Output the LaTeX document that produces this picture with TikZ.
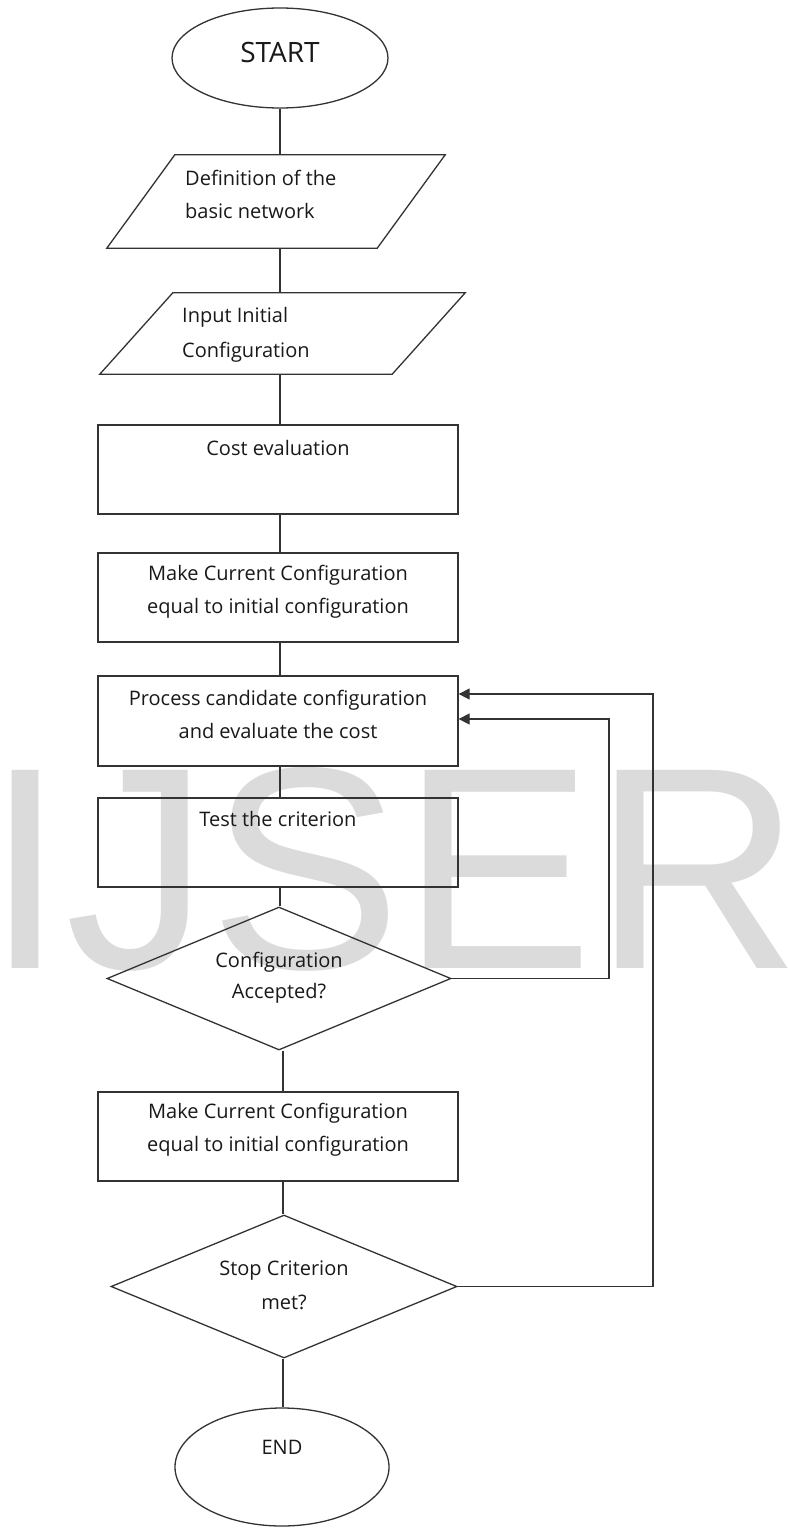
\documentclass[tikz,border=0pt]{standalone}
\usepackage{fontspec}
\setmainfont{Open Sans}
\newfontfamily\wmfont{Liberation Sans}
\usetikzlibrary{shapes.geometric,arrows.meta}
\begin{document}
\begin{tikzpicture}[x=1pt,y=-1pt,
  line/.style={draw=black!80, line width=1.3pt},
  frame/.style={rectangle, draw=none, inner sep=0pt},
  procbox/.style={rectangle, line, minimum width=360pt, minimum height=89pt, inner sep=0pt},
  term/.style={ellipse, line, inner sep=0pt},
  decide/.style={diamond, line, inner sep=0pt},
  txt/.style={inner sep=0pt, text=black!90, font=\fontsize{20}{33}\selectfont, align=center},
  ltxt/.style={inner sep=0pt, text=black!90, font=\fontsize{20}{35}\selectfont, align=left, anchor=west},
  fb/.style={line, -{Triangle[length=11pt,width=11pt]}}
]
\useasboundingbox (0,0) rectangle (787,1528);
\fill[white] (0,0) rectangle (787,1528);
\clip (0,0) rectangle (787,1528);

% watermark
\node[anchor=base west, inner sep=0pt, text=black!14, font=\wmfont\fontsize{288}{288}\selectfont] (wm) at (-15,968) {IJSER};

\coordinate (col) at (280,0);
\coordinate (colb) at (283,0);

% shapes
\node[term, minimum width=216pt, minimum height=100pt] (start) at (280,58) {};
\node[txt, font=\fontsize{28}{30}\selectfont] (starttxt) at (280,52) {START};

\node[frame, minimum width=338pt, minimum height=93pt] (def) at (276,201.5) {};
\draw[line] ([xshift=68pt]def.north west) -- (def.north east) -- ([xshift=-68pt]def.south east) -- (def.south west) -- cycle;
\node[ltxt, font=\fontsize{20}{33}\selectfont] (deftxt) at (185,194.5) {Definition of the\\basic network};

\node[frame, minimum width=365pt, minimum height=81pt] (inp) at (282.5,333.5) {};
\draw[line] ([xshift=73pt]inp.north west) -- (inp.north east) -- ([xshift=-73pt]inp.south east) -- (inp.south west) -- cycle;
\node[ltxt] (inptxt) at (182,334.5) {Input Initial\\Configuration};

\node[procbox] (cost) at (278,469.5) {};
\node[txt] (costtxt) at (278,448) {Cost evaluation};

\node[procbox] (make) at (278,597.5) {};
\node[txt] (maketxt) at (278,591.5) {Make Current Configuration\\equal to initial configuration};

\node[procbox, minimum height=90pt] (proc) at (278,721) {};
\node[txt] (proctxt) at (278,714) {Process candidate configuration\\and evaluate the cost};

\node[procbox] (test) at (278,842.5) {};
\node[txt] (testtxt) at (278,819) {Test the criterion};

\node[decide, minimum width=344pt, minimum height=143pt] (acc) at (279,978.5) {};
\node[txt, font=\fontsize{20}{31}\selectfont] (acctxt) at (279,977.5) {Configuration\\Accepted?};

\node[procbox] (make2) at (278,1136.5) {};
\node[txt] (make2txt) at (278,1130) {Make Current Configuration\\equal to initial configuration};

\node[decide, minimum width=346pt, minimum height=143pt] (stop) at (284,1286.5) {};
\node[txt, font=\fontsize{20}{34}\selectfont] (stoptxt) at (284,1285) {Stop Criterion\\met?};

\node[term, minimum width=214pt, minimum height=118pt] (end) at (282,1467) {};
\node[txt] (endtxt) at (282,1447) {END};

% connectors
\draw[line] (col |- start.south) -- (col |- def.north);
\draw[line] (col |- def.south) -- (col |- inp.north);
\draw[line] (col |- inp.south) -- (col |- cost.north);
\draw[line] (col |- cost.south) -- (col |- make.north);
\draw[line] (col |- make.south) -- (col |- proc.north);
\draw[line] (col |- proc.south) -- (col |- test.north);
\draw[line] (col |- test.south) -- (col |- acc.north);
\draw[line] (colb |- acc.south) -- (colb |- make2.north);
\draw[line] (colb |- make2.south) -- (colb |- stop.north);
\draw[line] (colb |- stop.south) -- (colb |- end.north);

% feedback loops
\coordinate (fbA) at (609,719);
\coordinate (fbB) at (653,694);
\draw[fb] (acc.east) -| (fbA) -- (proc.east |- fbA);
\draw[fb] (stop.east) -| (fbB) -- (proc.east |- fbB);
\end{tikzpicture}
\end{document}
